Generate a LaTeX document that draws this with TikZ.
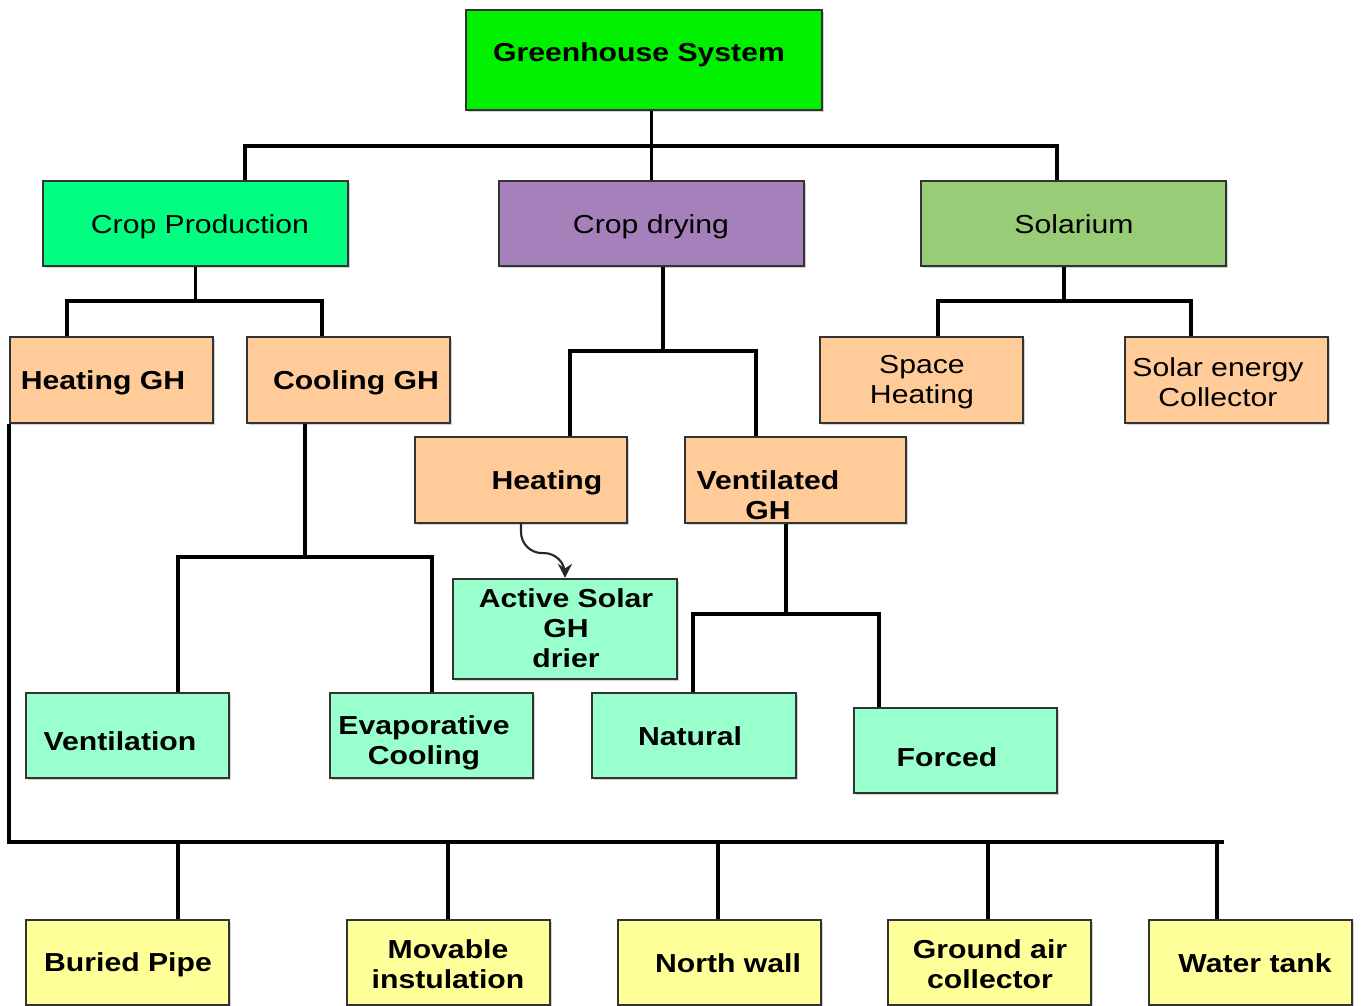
\documentclass[tikz,border=0pt]{standalone}
\usepackage{fontspec}
\setmainfont{Liberation Sans}[FakeStretch=1.16]
\usetikzlibrary{arrows.meta}
\usetikzlibrary{shadows}
\definecolor{ghgreen}{RGB}{0,240,0}
\definecolor{cpgreen}{RGB}{0,255,128}
\definecolor{cdpurple}{RGB}{166,128,186}
\definecolor{solgreen}{RGB}{153,204,119}
\definecolor{peach}{RGB}{255,204,153}
\definecolor{mint}{RGB}{153,255,204}
\definecolor{lemon}{RGB}{255,255,153}

\begin{document}
\begin{tikzpicture}[x=0.01cm, y=-0.01cm,
    box/.style={draw=black!80, line width=0.6pt, inner sep=0pt,
        minimum width=2.03cm, minimum height=0.85cm,
        drop shadow={shadow xshift=0.5pt, shadow yshift=-0.5pt, fill=black!35}},
    lbl/.style={align=center, font=\fontsize{7.4}{8.5}\selectfont\bfseries},
    lbln/.style={align=center, font=\fontsize{7.4}{8.5}\selectfont},
    link/.style={line width=0.95pt}]

\useasboundingbox (0,0) rectangle (1362,1006);

% top and first level
\node [box, fill=ghgreen, minimum width=3.56cm, minimum height=1.0cm] (gs) at (644,60) {};
\node [lbl] (gs-t) at (639,55) {Greenhouse System};

\node [box, fill=cpgreen, minimum width=3.05cm] (cp) at (195.5,223.5) {};
\node [lbln] (cp-t) at (200,227) {Crop Production};
\node [box, fill=cdpurple, minimum width=3.05cm] (cd) at (651.5,223.5) {};
\node [lbln] (cd-t) at (651,227) {Crop drying};
\node [box, fill=solgreen, minimum width=3.05cm] (sol) at (1073.5,223.5) {};
\node [lbln] (sol-t) at (1074,224) {Solarium};

% second level
\node [box, fill=peach, minimum height=0.86cm] (hg) at (111.5,380) {};
\node [lbl] (hg-t) at (103,383) {Heating GH};
\node [box, fill=peach, minimum height=0.86cm] (cg) at (348.5,380) {};
\node [lbl] (cg-t) at (356,383) {Cooling GH};
\node [box, fill=peach, minimum height=0.86cm] (sh) at (921.5,380) {};
\node [lbln] (sh-t) at (922,382) {Space\\Heating};
\node [box, fill=peach, minimum height=0.86cm] (sec) at (1226.5,380) {};
\node [lbln] (sec-t) at (1218,382) {Solar energy\\Collector};

\node [box, fill=peach, minimum width=2.12cm, minimum height=0.86cm] (heat) at (521,480) {};
\node [lbl] (heat-t) at (547,483) {Heating};
\node [box, fill=peach, minimum width=2.21cm, minimum height=0.86cm] (vgh) at (795.5,480) {};
\node [lbl] (vgh-t) at (768,495) {Ventilated\\ GH};

% third level
\node [box, fill=mint, minimum width=2.24cm, minimum height=1.0cm] (asg) at (565,629) {};
\node [lbl] (asg-t) at (566,628) {Active Solar\\GH\\drier};

\node [box, fill=mint] (vent) at (127.5,735.5) {};
\node [lbl] (vent-t) at (120,741) {Ventilation};
\node [box, fill=mint] (evap) at (431.5,735.5) {};
\node [lbl] (evap-t) at (424,743) {Evaporative\\Cooling};
\node [box, fill=mint, minimum width=2.04cm] (nat) at (694,735.5) {};
\node [lbl] (nat-t) at (690,736) {Natural};
\node [box, fill=mint] (frc) at (955.5,750.5) {};
\node [lbl] (frc-t) at (947,757) {Forced};

% bottom row
\node [box, fill=lemon] (bp) at (127.5,962.5) {};
\node [lbl] (bp-t) at (128,965) {Buried Pipe};
\node [box, fill=lemon] (mi) at (448.5,962.5) {};
\node [lbl] (mi-t) at (448,964) {Movable\\instulation};
\node [box, fill=lemon] (nw) at (719.5,962.5) {};
\node [lbl] (nw-t) at (728,963) {North wall};
\node [box, fill=lemon] (ga) at (989.5,962.5) {};
\node [lbl] (ga-t) at (990,964) {Ground air\\collector};
\node [box, fill=lemon] (wt) at (1250.5,962.5) {};
\node [lbl] (wt-t) at (1255,963) {Water tank};

% connectors
\coordinate (topL) at (245,146);
\coordinate (topR) at (1057,146);
\draw [link] (cd.north |- gs.south) -- (cd.north);
\draw [link] (topL |- cp.north) -- (topL) -- (topR) -- (topR |- sol.north);

\coordinate (cpL) at (67,301);
\coordinate (cpR) at (322,301);
\draw [link] (cp.south) -- (cp.south |- cpL);
\draw [link] (cpL |- hg.north) -- (cpL) -- (cpR) -- (cpR |- cg.north);

\coordinate (cdM) at (663,351);
\coordinate (cdL) at (570,351);
\coordinate (cdR) at (756,351);
\draw [link] (cdM |- cd.south) -- (cdM);
\draw [link] (cdL |- heat.north) -- (cdL) -- (cdR) -- (cdR |- vgh.north);

\coordinate (solM) at (1064,301);
\coordinate (solL) at (938,301);
\coordinate (solR) at (1191,301);
\draw [link] (solM |- sol.south) -- (solM);
\draw [link] (solL |- sh.north) -- (solL) -- (solR) -- (solR |- sec.north);

\coordinate (cgM) at (305,557);
\coordinate (cgL) at (178,557);
\coordinate (cgR) at (432,557);
\draw [link] (cgM |- cg.south) -- (cgM);
\draw [link] (cgL |- vent.north) -- (cgL) -- (cgR) -- (cgR |- evap.north);

\coordinate (vghM) at (786,614);
\coordinate (vghL) at (693,614);
\coordinate (vghR) at (879,614);
\draw [link] (vghM |- vgh.south) -- (vghM);
\draw [link] (vghL |- nat.north) -- (vghL) -- (vghR) -- (vghR |- frc.north);

\draw [black!85, semithick, rounded corners=6pt, -{Stealth[length=4pt, width=4pt]}]
    (heat.south) -- ++(0,29) -| (asg.north);

\coordinate (busR) at (1224,842);
\draw [link] (hg.south west) |- (busR);
\foreach \x/\n in {178/bp, 448/mi, 718/nw, 988/ga, 1217/wt}
    \draw [link] (\x,842) -- (\x,842 |- \n.north);
\end{tikzpicture}
\end{document}
